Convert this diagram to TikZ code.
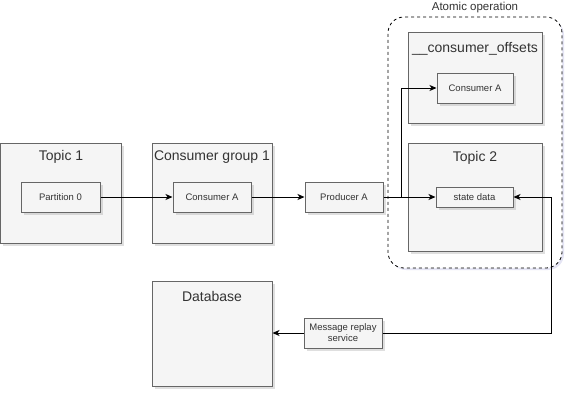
\documentclass[tikz,border=0pt]{standalone}
\usepackage{fontspec}
\setmainfont{Liberation Sans}
\usetikzlibrary{arrows.meta,shadows,calc}
\definecolor{boxfill}{HTML}{F5F5F5}
\definecolor{boxline}{HTML}{666666}
\definecolor{txt}{HTML}{333333}
\tikzset{
  box/.style={draw=boxline, fill=boxfill, line width=1pt, text=txt, inner sep=0pt,
    drop shadow={shadow xshift=2.5pt, shadow yshift=-2.5pt, opacity=0.25, fill=gray}},
  small/.style={box, font=\fontsize{9.5}{11}\selectfont, align=center},
  title/.style={text=txt, font=\fontsize{14}{16}\selectfont, inner sep=0pt},
  arr/.style={draw=black, line width=1pt, -{Stealth[length=7pt,width=6pt,inset=2pt]}},
  groupbox/.style={draw=black, fill=white, dashed, line width=0.8pt, rounded corners=16pt,
    drop shadow={shadow xshift=2pt, shadow yshift=-2pt, opacity=0.15, fill=blue!40!gray}},
}
\begin{document}
\begin{tikzpicture}[x=1pt,y=-1pt]
\useasboundingbox (0,0) rectangle (572,400);
% atomic operation group
\node[groupbox, minimum width=174pt, minimum height=251pt] (grp) at (475,142.5) {};
\node[text=txt, font=\fontsize{11.5}{13}\selectfont, inner sep=0pt] (grpt) at (475,7.5) {Atomic operation};
% big boxes
\node[box, minimum width=121pt, minimum height=100pt] (t1) at (61,193) {};
\node[title] (t1t) at (61,157) {Topic 1};
\node[box, minimum width=120pt, minimum height=100pt] (cg) at (212,193) {};
\node[title] (cgt) at (212,157) {Consumer group 1};
\node[box, minimum width=134pt, minimum height=91pt] (off) at (475,77.5) {};
\node[title] (offt) at (475,49) {\_\_consumer\_offsets};
\node[box, minimum width=134pt, minimum height=108pt] (t2) at (475,197) {};
\node[title] (t2t) at (475,158) {Topic 2};
\node[box, minimum width=120pt, minimum height=105pt] (db) at (212,333.5) {};
\node[title] (dbt) at (212,296) {Database};
% small boxes
\node[small, minimum width=79pt, minimum height=30pt] (p0) at (60.5,197) {Partition 0};
\node[small, minimum width=78pt, minimum height=30pt] (ca) at (212,197) {Consumer A};
\node[small, minimum width=78pt, minimum height=30pt] (pa) at (344,197) {Producer A};
\node[small, minimum width=76pt, minimum height=30pt] (oa) at (475,88) {Consumer A};
\node[small, minimum width=77pt, minimum height=20pt] (sd) at (474.5,197) {state data};
\node[small, minimum width=78pt, minimum height=30pt] (rs) at (343,333) {Message replay\\service};
% connectors
\coordinate (br) at (401,197);
\coordinate (rt) at (551,197);
\draw[arr] (p0) -- (ca);
\draw[arr] (ca) -- (pa);
\draw[arr] (pa) -- (sd);
\draw[arr] (pa.east) -- (br) |- (oa.west);
\draw[arr] (rs.east) -| (rt) -- (sd.east);
\draw[arr] (rs.west) -- (rs.west -| db.east);
\end{tikzpicture}
\end{document}
